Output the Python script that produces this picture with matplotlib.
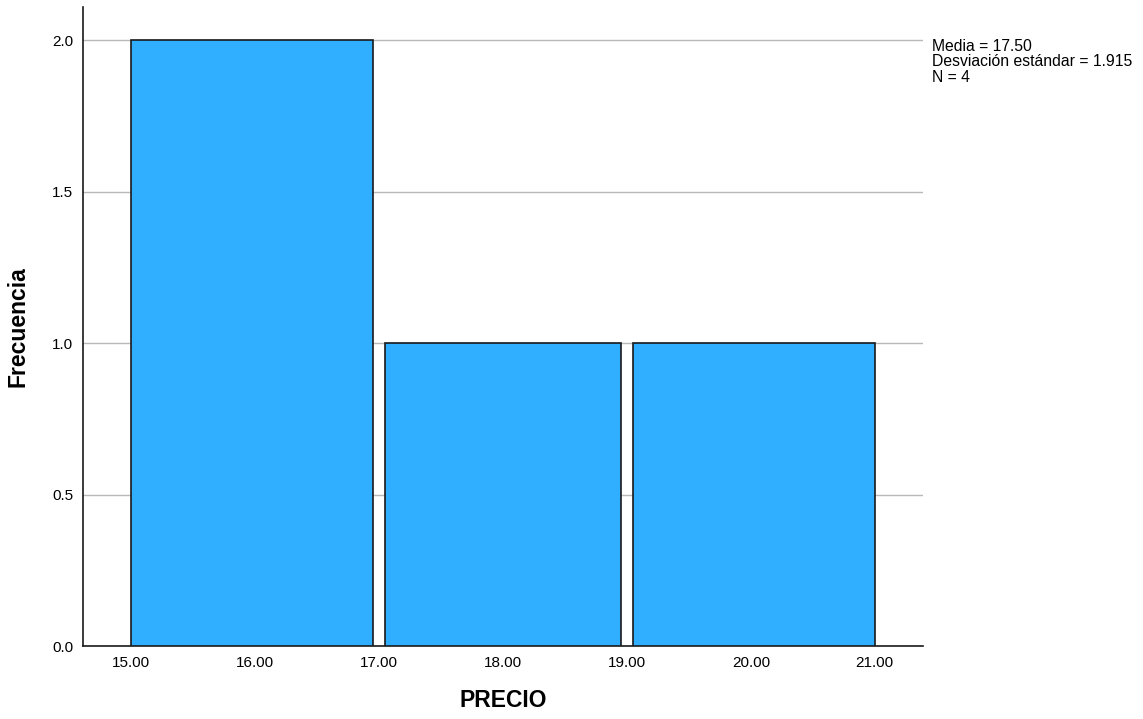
import matplotlib
matplotlib.use("Agg")
import matplotlib.pyplot as plt

plt.rcParams['font.family'] = ['Liberation Sans', 'DejaVu Sans']

# datos del histograma (PRECIO)
bordes = [15.0, 17.0, 19.0, 21.0]
frecuencias = [2, 1, 1]
ticks_x = [15.0, 16.0, 17.0, 18.0, 19.0, 20.0, 21.0]
ticks_y = [0.0, 0.5, 1.0, 1.5, 2.0]
media = 17.50
desv = 1.915
n = 4

fig = plt.figure(figsize=(11.43, 7.19), dpi=100)
ax = fig.add_axes([0.0726, 0.1015, 0.735, 0.8885])

# separacion entre barras solo en los bordes interiores
hueco = 0.05
izq = [b + (hueco if i > 0 else 0) for i, b in enumerate(bordes[:-1])]
der = [b - (hueco if i < len(bordes) - 2 else 0) for i, b in enumerate(bordes[1:])]
anchos = [d - i for i, d in zip(izq, der)]

ax.bar(izq, frecuencias, width=anchos, align="edge", color="#30AEFF",
       edgecolor="#1a1a1a", linewidth=1.2, zorder=3)

ax.set_xlim(14.61, 21.39)
ax.set_ylim(0, 2.109)
ax.set_xticks(ticks_x)
ax.set_xticklabels([f"{t:.2f}" for t in ticks_x])
ax.set_yticks(ticks_y)
ax.set_yticklabels([f"{t:.1f}" for t in ticks_y])
ax.tick_params(length=0, labelsize=11, pad=7)
ax.yaxis.grid(True, color="#b8b8b8", linewidth=1, zorder=0)
ax.set_axisbelow(True)

for s in ["top", "right"]:
    ax.spines[s].set_visible(False)
for s in ["left", "bottom"]:
    ax.spines[s].set_color("#1a1a1a")
    ax.spines[s].set_linewidth(1.2)

ax.set_xlabel("PRECIO", fontsize=16.5, fontweight="bold", labelpad=14)
ax.set_ylabel("Frecuencia", fontsize=16.5, fontweight="bold", labelpad=16)

fig.text(0.8155, 0.9458,
         f"Media = {media:.2f}\nDesviación estándar = {desv:.3f}\nN = {n}",
         fontsize=11.3, va="top", ha="left", linespacing=1.04)

fig.savefig("out.png", dpi=100)
